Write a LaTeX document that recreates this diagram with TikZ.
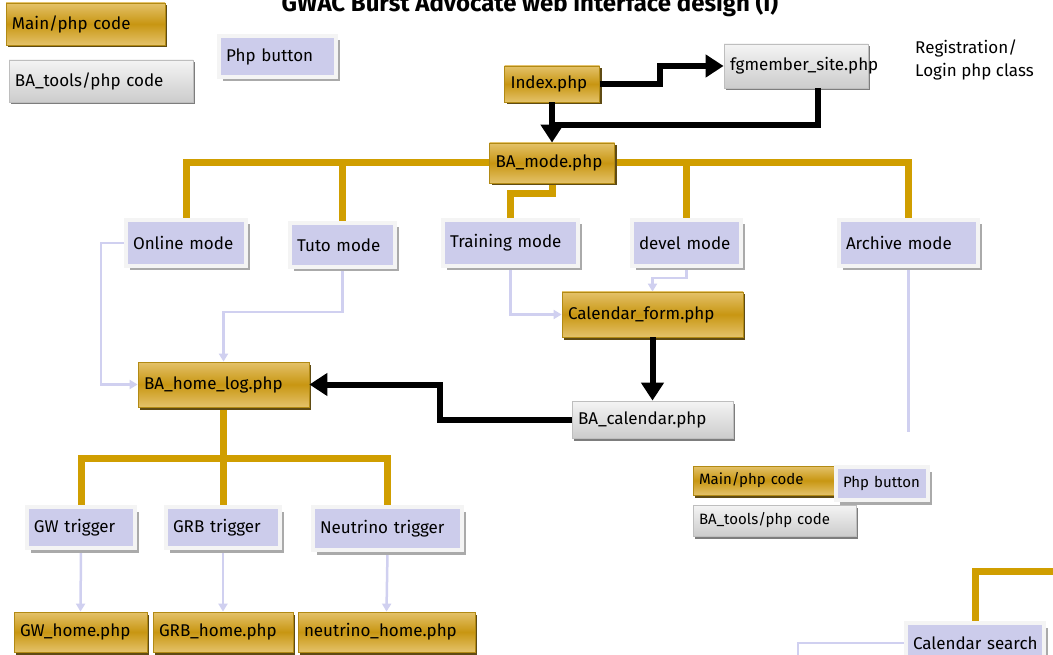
\documentclass[tikz,border=0pt]{standalone}
\usepackage{fontspec}
\setmainfont{Fira Sans}
\usetikzlibrary{arrows.meta, shadows, calc, backgrounds}
\definecolor{goldlight}{RGB}{228,194,106}
\definecolor{golddark}{RGB}{200,150,18}
\definecolor{goldedge}{RGB}{178,138,20}
\definecolor{goldshadow}{RGB}{95,75,20}
\definecolor{graytop}{RGB}{244,244,244}
\definecolor{graybot}{RGB}{204,204,204}
\definecolor{grayedge}{RGB}{190,190,190}
\definecolor{grayshadow}{RGB}{125,125,125}
\definecolor{lavender}{RGB}{204,204,235}
\definecolor{framegray}{RGB}{244,244,244}
\definecolor{btnshadow}{RGB}{170,170,170}
\definecolor{treegold}{RGB}{208,158,0}
\definecolor{lightlav}{RGB}{208,208,240}

\begin{document}
\begin{tikzpicture}[
  x=1pt, y=-1pt,
  boxbase/.style={rectangle, align=left, inner xsep=6pt, inner ysep=0pt,
    font=\fontsize{17}{20}\selectfont, text=black},
  smalltext/.style={font=\fontsize{15}{18}\selectfont},
  codebox/.style={boxbase, draw=goldedge, line width=0.8pt,
    top color=goldlight, bottom color=goldlight, middle color=golddark,
    drop shadow={shadow xshift=2pt, shadow yshift=-2.5pt, fill=goldshadow, opacity=1}},
  toolbox/.style={boxbase, draw=grayedge, line width=0.8pt,
    top color=graytop, bottom color=graybot,
    drop shadow={shadow xshift=2pt, shadow yshift=-2.5pt, fill=grayshadow, opacity=1}},
  phpbutton/.style={boxbase, inner xsep=7pt, fill=lavender, draw=framegray, line width=4pt,
    drop shadow={shadow xshift=4pt, shadow yshift=-4.5pt, fill=btnshadow, opacity=1}},
  note/.style={align=left, inner sep=2pt, font=\fontsize{17}{23}\selectfont},
  titletext/.style={inner sep=0pt, font=\fontsize{24}{27}\selectfont\bfseries},
  blackflow/.style={-{Triangle[width=22pt,length=18pt]}, line width=6pt, black},
  blackline/.style={line width=6pt, black},
  goldline/.style={line width=7pt, draw=treegold},
  lightflow/.style={-{Triangle[width=9pt,length=8pt]}, line width=2.5pt, draw=lightlav},
  lightline/.style={line width=2.5pt, draw=lightlav}
]
\useasboundingbox (0,0) rectangle (1053,655);

% legend, top left
\node[codebox, text width=147pt, minimum height=42pt] (legmain) at (85.5,24) {Main/php code};
\node[toolbox, text width=172pt, minimum height=42pt] (legtools) at (101,81) {BA\_tools/php code};
\node[phpbutton, text width=103pt, minimum height=41pt] (legbutton) at (277.5,56.5) {Php button};

\node[titletext, anchor=base] (title) at (530,12) {GWAC Burst Advocate web interface design (I)};

% login
\node[codebox, text width=83pt, minimum height=36pt] (index) at (552,84) {Index.php};
\node[toolbox, text width=132pt, minimum height=44pt] (fgmember) at (796,66) {fgmember\_site.php};
\node[note, anchor=north west] (regnote) at (913,38) {Registration/\\Login php class};
\node[codebox, text width=113pt, minimum height=40pt] (mode) at (552,163) {BA\_mode.php};

% modes
\node[phpbutton, text width=106pt, minimum height=46pt] (online) at (186,243) {Online mode};
\node[phpbutton, text width=91pt, minimum height=44pt] (tuto) at (342.5,245) {Tuto mode};
\node[phpbutton, text width=121pt, minimum height=46pt] (training) at (510.5,243) {Training mode};
\node[phpbutton, text width=95pt, minimum height=46pt] (devel) at (686.5,243) {devel mode};
\node[phpbutton, text width=125pt, minimum height=46pt] (archive) at (908.5,243) {Archive mode};

\node[codebox, text width=169pt, minimum height=45pt] (calform) at (652.5,314.5) {Calendar\_form.php};
\node[toolbox, text width=149pt, minimum height=37pt] (calendar) at (652.5,419.5) {BA\_calendar.php};
\node[codebox, text width=159pt, minimum height=45pt] (homelog) at (223.5,384.5) {BA\_home\_log.php};

% triggers
\node[phpbutton, text width=94pt, minimum height=41pt] (gwtrig) at (81,527.5) {GW trigger};
\node[phpbutton, text width=100pt, minimum height=41pt] (grbtrig) at (223,527.5) {GRB trigger};
\node[phpbutton, text width=135pt, minimum height=43pt] (nutrig) at (387.5,528.5) {Neutrino trigger};
\node[codebox, text width=121pt, minimum height=40pt] (gwhome) at (80.5,632) {GW\_home.php};
\node[codebox, text width=128pt, minimum height=40pt] (grbhome) at (223,632) {GRB\_home.php};
\node[codebox, text width=165pt, minimum height=40pt] (nuhome) at (386.5,632) {neutrino\_home.php};

% legend, bottom right
\node[codebox, smalltext, text width=129pt, minimum height=29pt] (legmainb) at (763.5,480.5) {Main/php code};
\node[phpbutton, smalltext, text width=78pt, minimum height=33pt] (legbuttonb) at (882,483.5) {Php button};
\node[toolbox, smalltext, text width=151pt, minimum height=31pt] (legtoolsb) at (774.5,520.5) {BA\_tools/php code};

\node[phpbutton, text width=124pt, minimum height=40pt] (calsearch) at (975,643) {\mbox{Calendar search}};

\begin{scope}[on background layer]
\fill[white] (0,0) rectangle (1053,655);
% gold trees
\draw[goldline] (mode.west) -| (online.north);
\draw[goldline] (mode.west) -| (tuto.north);
\draw[goldline] (mode.east) -| (devel.north);
\draw[goldline] (mode.east) -| (archive.north);
\draw[goldline] (mode.south) -- ++(0,10) -| (training.north);
\foreach \trig in {gwtrig,grbtrig,nutrig}
  \draw[goldline] (homelog.south) -- ++(0,51) -| (\trig.north);
\draw[goldline] (calsearch.north) |- ++(90,-50);
% button links
\draw[lightflow] (online.west) -- ++(-23,0) |- (homelog.west);
\draw[lightflow] (tuto.south) -- ++(0,43) -| (homelog.north);
\draw[lightflow] (training.south) |- (calform.west);
\draw[lightflow] (devel.south) -- ++(0,10) -| (calform.north);
\draw[lightline] (archive.south) -- ++(0,164);
\draw[lightflow] (gwtrig.south) -- (gwhome.north);
\draw[lightflow] (grbtrig.south) -- (grbhome.north);
\draw[lightflow] (nutrig.south) -- (nuhome.north);
\draw[lightline] (calsearch.west) -| ++(-106,30);
\end{scope}

% main php flow
\coordinate (loginjoin) at (552,125);
\draw[blackflow] (index.east) -- ++(60,0) |- (fgmember.west);
\draw[blackline] ($(fgmember.south)+(22,0)$) |- (loginjoin);
\draw[blackflow] (index.south) -- (mode.north);
\draw[blackflow] (calform.south) -- (calendar.north);
\draw[blackflow] (calendar.west) -- ++(-132,0) |- (homelog.east);
\end{tikzpicture}
\end{document}
